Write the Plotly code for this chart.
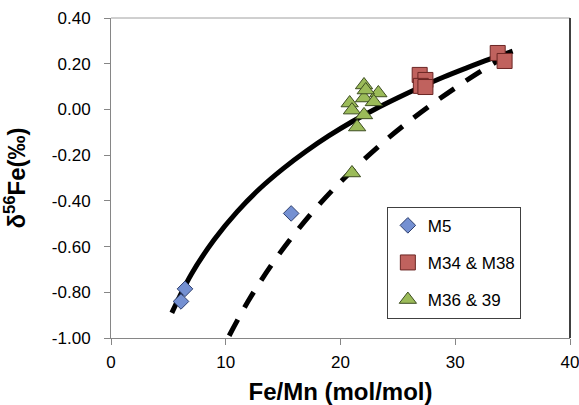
import plotly.graph_objects as go

# Data
m5_x = [6.45, 6.1, 15.7]
m5_y = [-0.785, -0.84, -0.455]

m34_x = [26.9, 27.4, 27.0, 27.4, 33.7, 34.3]
m34_y = [0.151, 0.129, 0.103, 0.098, 0.247, 0.212]

m36_x = [22.05, 23.3, 20.8, 21.0, 22.05, 22.9, 22.05, 21.45, 22.2, 21.0]
m36_y = [0.107, 0.072, 0.028, -0.003, 0.05, 0.033, -0.024, -0.077, 0.085, -0.278]

solid_x = [5.3, 7, 9, 11, 13, 15, 17, 19, 21, 23, 25, 27, 29, 31, 33, 35]
solid_y = [-0.89, -0.721, -0.569, -0.447, -0.345, -0.259, -0.183, -0.115, -0.054,
           0.001, 0.051, 0.098, 0.142, 0.182, 0.220, 0.255]

dash_x = [10.3, 12, 14, 16, 18, 20, 22, 24, 26, 28, 30, 32, 34, 35]
dash_y = [-0.99, -0.835, -0.679, -0.544, -0.424, -0.317, -0.221, -0.132, -0.051,
          0.024, 0.094, 0.160, 0.221, 0.25]

x_ticks = [0, 10, 20, 30, 40]
y_ticks = [0.40, 0.20, 0.00, -0.20, -0.40, -0.60, -0.80, -1.00]

FONT = "Liberation Sans"

fig = go.Figure()
fig.add_trace(go.Scatter(x=solid_x, y=solid_y, mode="lines", showlegend=False,
                         line=dict(color="black", width=5, shape="spline"), hoverinfo="skip"))
fig.add_trace(go.Scatter(x=dash_x, y=dash_y, mode="lines", showlegend=False,
                         line=dict(color="black", width=5, dash="18px,14px", shape="spline"),
                         hoverinfo="skip"))
fig.add_trace(go.Scatter(x=m5_x, y=m5_y, mode="markers", name="M5", legendgroup="a",
                         marker=dict(symbol="diamond", size=12, color="#7490D2",
                                     line=dict(color="#2E3F6E", width=1))))
fig.add_trace(go.Scatter(x=m34_x, y=m34_y, mode="markers", name="M34 & M38", legendgroup="b",
                         marker=dict(symbol="square", size=15, color="#C0625E",
                                     line=dict(color="#6B2624", width=1))))
fig.add_trace(go.Scatter(x=m36_x, y=m36_y, mode="markers", name="M36 & 39", legendgroup="c",
                         marker=dict(symbol="triangle-up", size=15, color="#9BBB59",
                                     line=dict(color="#3E4E22", width=1))))

fig.update_layout(
    width=579, height=405,
    margin=dict(l=111, r=9, t=18, b=67, autoexpand=False),
    paper_bgcolor="white", plot_bgcolor="white",
    font=dict(family=FONT, size=17, color="black"),
    showlegend=True,
    legend=dict(x=0.601, y=0.41, xanchor="left", yanchor="top",
                bordercolor="#404040", borderwidth=1, bgcolor="white",
                font=dict(family=FONT, size=17), tracegroupgap=12,
                itemwidth=30),
    xaxis=dict(range=[0, 40], tickvals=x_ticks, ticktext=[str(v) for v in x_ticks],
               showgrid=False, zeroline=False, showline=True, linecolor="#868686",
               linewidth=1, ticks="outside", ticklen=6, tickcolor="#868686",
               automargin=False, ticklabelstandoff=3, ticklabeloverflow="allow",
               title=dict(text="<b>Fe/Mn (mol/mol)</b>", font=dict(size=24), standoff=11)),
    yaxis=dict(range=[-1.0, 0.40], tickvals=y_ticks, ticktext=[f"{v:.2f}" for v in y_ticks],
               showgrid=False, zeroline=False, showline=True, linecolor="#868686",
               linewidth=1, ticks="outside", ticklen=6, tickcolor="#868686",
               automargin=False, ticklabelstandoff=10,
               title=dict(text="<b>δ<sup>56</sup>Fe(‰)</b>", font=dict(size=24), standoff=20)),
    shapes=[
        dict(type="line", xref="paper", yref="paper", x0=0, x1=1, y0=1, y1=1,
             line=dict(color="#A0A0A0", width=1)),
        dict(type="line", xref="paper", yref="paper", x0=1, x1=1, y0=0, y1=1,
             line=dict(color="#404040", width=2)),
    ],
)

fig.write_html("out.html", config={"displayModeBar": False},
               post_script="document.body.style.margin='0';document.body.style.overflow='hidden';")
